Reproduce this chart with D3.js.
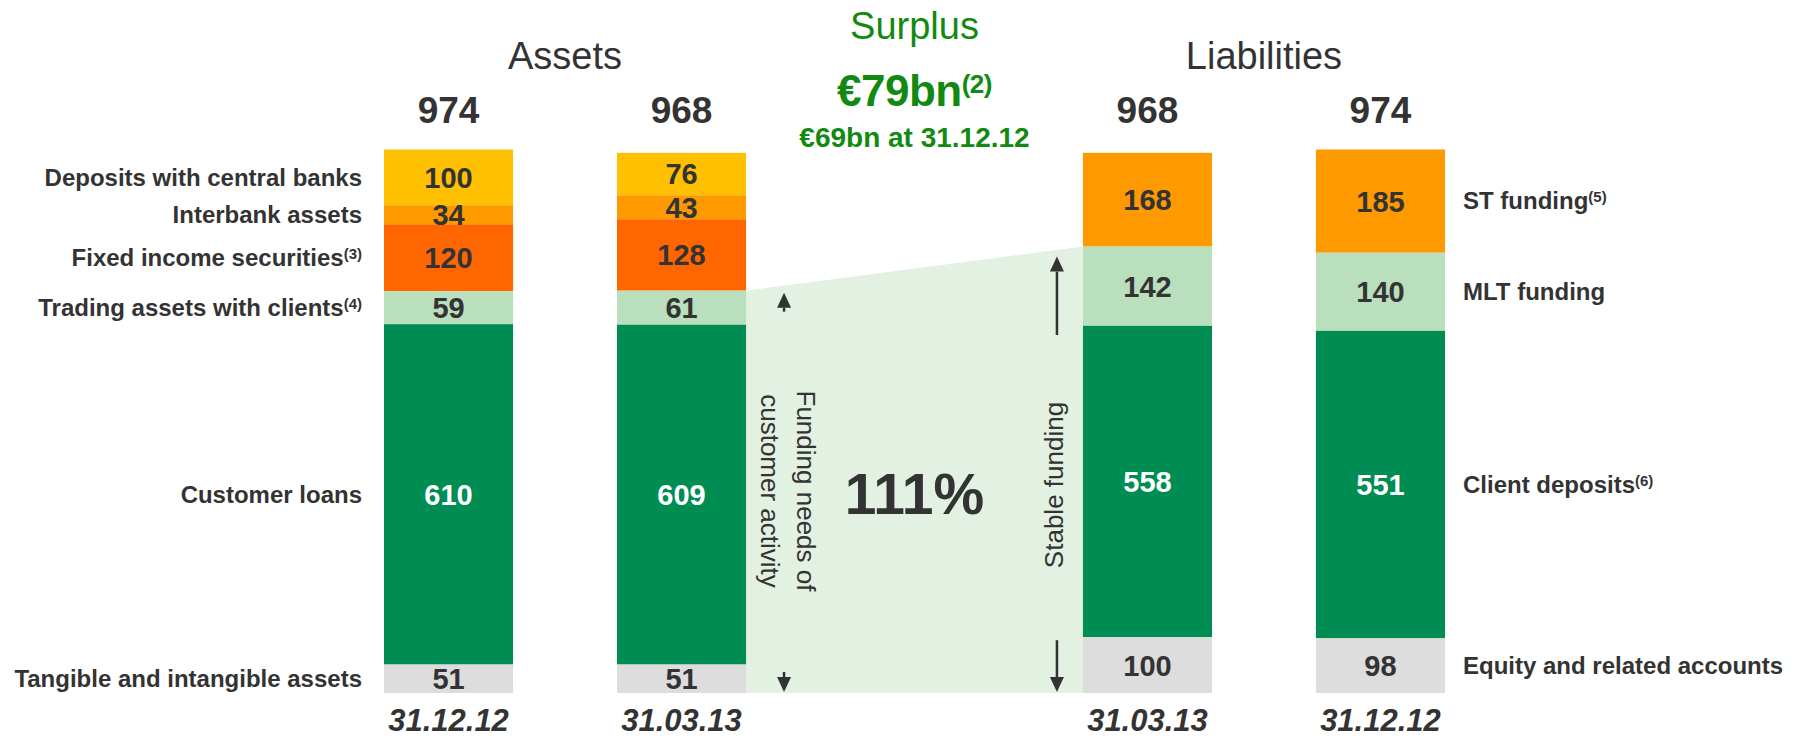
<!DOCTYPE html>
<html>
<head>
<meta charset="utf-8">
<script src="https://cdn.jsdelivr.net/npm/d3@7"></script>
<style>
body { margin: 0; background: #fff; }
svg { display: block; font-family: "Liberation Sans", Arial, Helvetica, sans-serif; }
</style>
</head>
<body>
<svg width="1794" height="737"></svg>
<script>
// slots left to right, the middle one is the empty space between the two sides
const columns = ["a1", "a2", "gap", "l1", "l2"];
const dates = ["31.12.12", "31.03.13", "31.03.13", "31.12.12"];

// assets, top to bottom
const assetNames = ["Deposits with central banks", "Interbank assets", "Fixed income securities",
                    "Trading assets with clients", "Customer loans", "Tangible and intangible assets"];
const assetNotes = ["", "", "(3)", "(4)", "", ""];
const assets1212 = [100, 34, 120, 59, 610, 51];
const assets0313 = [76, 43, 128, 61, 609, 51];

// liabilities, top to bottom
const liabNames = ["ST funding", "MLT funding", "Client deposits", "Equity and related accounts"];
const liabNotes = ["(5)", "", "(6)", ""];
const liab0313 = [168, 142, 558, 100];
const liab1212 = [185, 140, 551, 98];

const assetColors = ["#ffc000", "#ff9900", "#ff6600", "#badfbc", "#008d53", "#dddddd"];
const liabColors = ["#ff9900", "#badfbc", "#008d53", "#dddddd"];

const green = "#128a12";
const ink = "#333333";

var svg = d3.select("svg");

var x = d3.scaleBand()
    .domain(columns)
    .range([384, 1445])
    .paddingInner(0.446)
    .paddingOuter(0);
var bw = x.bandwidth();

var y = d3.scaleLinear()
    .domain([0, 974])
    .range([693, 149.5]);

function stackUp(values) {
    var top = d3.sum(values);
    return values.map(function(v) {
        var s = {v: v, y1: top, y0: top - v};
        top -= v;
        return s;
    });
}

var bars = [
    {key: "a1", values: assets1212, colors: assetColors, date: dates[0]},
    {key: "a2", values: assets0313, colors: assetColors, date: dates[1]},
    {key: "l1", values: liab0313, colors: liabColors, date: dates[2]},
    {key: "l2", values: liab1212, colors: liabColors, date: dates[3]}
];
bars.forEach(function(b) {
    b.segs = stackUp(b.values);
    b.segs.forEach(function(s, i) { s.color = b.colors[i]; });
    b.total = d3.sum(b.values);
});

// shaded area linking customer activity and stable funding
var a2 = bars[1], l1 = bars[2];
var needTop = a2.total - d3.sum(a2.values.slice(0, 3));
var stableTop = l1.total - l1.values[0];
svg.append("polygon")
    .attr("points", [
        [x("a2") + bw, y(needTop)],
        [x("l1"), y(stableTop)],
        [x("l1"), y(0)],
        [x("a2") + bw, y(0)]
    ].map(p => p.join(",")).join(" "))
    .attr("fill", "#e2f1e2");

// bars
var g = svg.append("g")
    .selectAll("g")
    .data(bars)
    .enter()
    .append("g");

g.selectAll("rect")
    .data(d => d.segs)
    .enter()
    .append("rect")
    .attr("x", function() { return x(d3.select(this.parentNode).datum().key); })
    .attr("y", d => y(d.y1))
    .attr("width", bw)
    .attr("height", d => y(d.y0) - y(d.y1))
    .attr("fill", d => d.color);

g.selectAll("text.val")
    .data(d => d.segs)
    .enter()
    .append("text")
    .attr("class", "val")
    .attr("x", function() { return x(d3.select(this.parentNode).datum().key) + bw / 2; })
    .attr("y", d => (y(d.y0) + y(d.y1)) / 2)
    .attr("dy", "0.36em")
    .attr("text-anchor", "middle")
    .attr("font-size", 29)
    .attr("font-weight", "bold")
    .attr("fill", d => d.color == "#008d53" ? "#fff" : ink)
    .text(d => d.v);

// totals above and dates below
g.append("text")
    .attr("x", d => x(d.key) + bw / 2)
    .attr("y", 123)
    .attr("text-anchor", "middle")
    .attr("font-size", 37)
    .attr("font-weight", "bold")
    .attr("fill", ink)
    .text(d => d.total);

g.append("text")
    .attr("x", d => x(d.key) + bw / 2)
    .attr("y", 731)
    .attr("text-anchor", "middle")
    .attr("font-size", 31)
    .attr("font-weight", "bold")
    .attr("font-style", "italic")
    .attr("fill", ink)
    .text(d => d.date);

// category labels
function labels(names, notes, bar, xPos, anchor) {
    var t = svg.append("g")
        .selectAll("text")
        .data(names)
        .enter()
        .append("text")
        .attr("x", xPos)
        .attr("y", (d, i) => (y(bar.segs[i].y0) + y(bar.segs[i].y1)) / 2)
        .attr("dy", "0.34em")
        .attr("text-anchor", anchor)
        .attr("font-size", 24)
        .attr("font-weight", "bold")
        .attr("fill", ink);
    t.append("tspan").text(d => d);
    t.append("tspan")
        .attr("font-size", 15)
        .attr("dy", -7)
        .text((d, i) => notes[i]);
}
labels(assetNames, assetNotes, bars[0], x("a1") - 22, "end");
labels(liabNames, liabNotes, bars[3], x("l2") + bw + 18, "start");

// headings
svg.append("text")
    .attr("x", x("a1") + (x("a2") + bw - x("a1")) / 2)
    .attr("y", 69)
    .attr("text-anchor", "middle")
    .attr("font-size", 38)
    .attr("fill", ink)
    .text("Assets");

svg.append("text")
    .attr("x", x("l1") + (x("l2") + bw - x("l1")) / 2)
    .attr("y", 69)
    .attr("text-anchor", "middle")
    .attr("font-size", 38)
    .attr("fill", ink)
    .text("Liabilities");

var cx = x("gap") + bw / 2;
svg.append("text")
    .attr("x", cx).attr("y", 39)
    .attr("text-anchor", "middle")
    .attr("font-size", 38)
    .attr("fill", green)
    .text("Surplus");

var s79 = svg.append("text")
    .attr("x", cx).attr("y", 106)
    .attr("text-anchor", "middle")
    .attr("font-size", 44)
    .attr("font-weight", "bold")
    .attr("letter-spacing", -0.5)
    .attr("fill", green);
s79.append("tspan").text("€79bn");
s79.append("tspan").attr("font-size", 26).attr("dy", -13).text("(2)");

svg.append("text")
    .attr("x", cx).attr("y", 147)
    .attr("text-anchor", "middle")
    .attr("font-size", 28)
    .attr("font-weight", "bold")
    .attr("fill", green)
    .text("€69bn at 31.12.12");

svg.append("text")
    .attr("x", cx).attr("y", 514)
    .attr("text-anchor", "middle")
    .attr("font-size", 57)
    .attr("font-weight", "bold")
    .attr("fill", ink)
    .text("111%");

// rotated notes
var fn = svg.append("text")
    .attr("transform", "translate(" + (x("a2") + bw + 51) + ",491) rotate(90)")
    .attr("text-anchor", "middle")
    .attr("font-size", 26)
    .attr("fill", ink);
fn.append("tspan").attr("x", 0).attr("y", 0).text("Funding needs of");
fn.append("tspan").attr("x", 0).attr("y", 36).text("customer activity");

svg.append("text")
    .attr("transform", "translate(" + (x("l1") - 20) + ",485) rotate(-90)")
    .attr("text-anchor", "middle")
    .attr("font-size", 26)
    .attr("fill", ink)
    .text("Stable funding");

// arrows
function arrow(ax, yFrom, yTo) {
    var dir = yTo < yFrom ? -1 : 1;
    var head = 15;
    svg.append("line")
        .attr("x1", ax).attr("x2", ax)
        .attr("y1", yFrom).attr("y2", yTo - dir * head)
        .attr("stroke", ink)
        .attr("stroke-width", 2.5);
    svg.append("path")
        .attr("d", "M" + ax + "," + yTo +
                   "L" + (ax - 7) + "," + (yTo - dir * head) +
                   "L" + (ax + 7) + "," + (yTo - dir * head) + "Z")
        .attr("fill", ink);
}
var lx = x("a2") + bw + 38;
arrow(lx, y(needTop) + 21, y(needTop) + 2);
arrow(lx, y(0) - 21, y(0) - 1);
var rx = x("l1") - 26;
arrow(rx, 335, y(stableTop) + 10);
arrow(rx, y(l1.values[3]) + 3, y(0) - 1);
</script>
</body>
</html>
